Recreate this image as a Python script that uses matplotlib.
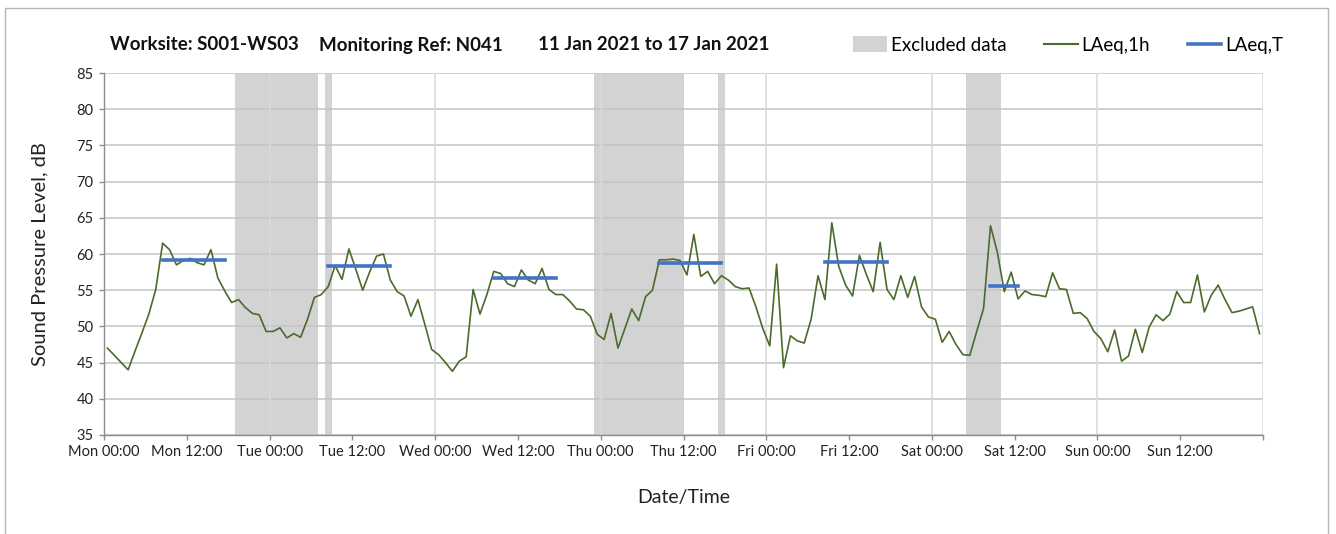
import numpy as np
import matplotlib
matplotlib.use('Agg')
import matplotlib.pyplot as plt
import matplotlib.patches as patches
from matplotlib.lines import Line2D

plt.rcParams.update({
    'font.family': ['Lato', 'DejaVu Sans'],
    'font.size': 11,
    'figure.facecolor': 'white',
    'axes.facecolor': 'white',
})

# Hourly LAeq,1h values, Mon 00:00 -> Sun 23:00 (168 hours)
laeq_1h = [
    47.0, 46.0, 45.0, 44.0, 46.6, 49.1, 51.7, 55.1, 61.5, 60.6, 58.5, 59.1,
    59.4, 58.8, 58.5, 60.6, 56.7, 54.9, 53.3, 53.7, 52.6, 51.8, 51.6, 49.3,
    49.3, 49.8, 48.4, 49.0, 48.5, 51.0, 54.0, 54.4, 55.5, 58.4, 56.5, 60.7,
    57.9, 55.0, 57.5, 59.7, 60.0, 56.4, 54.8, 54.2, 51.4, 53.7, 50.3, 46.8,
    46.1, 45.0, 43.8, 45.2, 45.8, 55.1, 51.7, 54.4, 57.6, 57.3, 55.9, 55.5,
    57.8, 56.4, 55.9, 58.0, 55.1, 54.4, 54.4, 53.5, 52.4, 52.3, 51.4, 48.9,
    48.2, 51.8, 47.0, 49.7, 52.4, 50.8, 54.1, 55.0, 59.2, 59.2, 59.3, 59.1,
    57.1, 62.7, 56.9, 57.6, 55.9, 57.0, 56.4, 55.5, 55.2, 55.3, 52.7, 49.7,
    47.3, 58.6, 44.3, 48.7, 48.0, 47.7, 51.0, 57.0, 53.7, 64.3, 58.3, 55.7,
    54.2, 59.8, 57.2, 54.8, 61.6, 55.1, 53.7, 57.0, 54.0, 56.9, 52.7, 51.3,
    51.0, 47.8, 49.3, 47.5, 46.1, 46.0, 49.3, 52.5, 63.9, 60.2, 54.8, 57.5,
    53.8, 54.9, 54.4, 54.3, 54.1, 57.4, 55.2, 55.1, 51.8, 51.9, 51.1, 49.3,
    48.3, 46.5, 49.5, 45.2, 45.9, 49.6, 46.4, 49.9, 51.6, 50.8, 51.7, 54.8,
    53.3, 53.3, 57.1, 52.0, 54.3, 55.7, 53.7, 51.9, 52.1, 52.4, 52.7, 49.0,
]

# LAeq,T periods (first hour, last hour, level)
period_start = [8, 32, 56, 80, 104, 128]
period_end = [17, 41, 65, 89, 113, 132]
period_level = [59.2, 58.4, 56.7, 58.8, 58.9, 55.6]

# Excluded data (hour from, hour to)
excl_start = [19, 32, 71, 89, 125]
excl_end = [31, 33, 84, 90, 130]

days = ['Mon', 'Tue', 'Wed', 'Thu', 'Fri', 'Sat', 'Sun']
tick_labels = [f'{d} {t}' for d in days for t in ('00:00', '12:00')]

GREEN = '#4a6b2c'
BLUE = '#4472c4'
SHADE = '#d3d3d3'
AXIS_GRAY = '#8c8c8c'

W, H = 1336, 534
fig = plt.figure(figsize=(W / 100, H / 100), dpi=100)
ax = fig.add_axes([104 / W, 1 - 435 / H, (1263 - 104) / W, (435 - 73) / H])

# excluded shading
for s, e in zip(excl_start, excl_end):
    ax.axvspan(s, e, color=SHADE, lw=0, zorder=0.2)

# vertical day gridlines
for h in range(24, 169, 24):
    ax.axvline(h, color='#d9d9d9', lw=1.2, zorder=0.6)

hours = np.arange(len(laeq_1h)) + 0.5
ax.plot(hours, laeq_1h, color=GREEN, lw=1.2, zorder=3)

for s, e, v in zip(period_start, period_end, period_level):
    ax.plot([s + 0.5, e + 0.5], [v, v], color=BLUE, lw=2.6,
            solid_capstyle='projecting', zorder=4)

ax.set_xlim(0, 168)
ax.set_ylim(35, 85)
ax.set_yticks(range(35, 86, 5))
ax.set_xticks(range(0, 169, 12))
ax.set_xticklabels(tick_labels + [''])
ax.set_axisbelow(True)
ax.yaxis.grid(True, color='#c4c4c4', lw=1.1)

for side in ('top', 'right'):
    ax.spines[side].set_visible(False)
for side in ('left', 'bottom'):
    ax.spines[side].set_color(AXIS_GRAY)
    ax.spines[side].set_linewidth(1.0)
ax.tick_params(axis='both', direction='out', length=3.5, width=1,
               color=AXIS_GRAY, labelsize=10.5, labelcolor='#222222', pad=4)

ax.set_xlabel('Date/Time', fontsize=14, color='#222222')
ax.set_ylabel('Sound Pressure Level, dB', fontsize=14.5, color='#222222')
ax.xaxis.set_label_coords(0.5, -(497 - 435) / 362)
ax.yaxis.set_label_coords((40 - 104) / 1159, 0.5)
ax.xaxis.label.set_va('center')
ax.yaxis.label.set_va('center')

# title pieces
ty = 1 - 45 / H
for x, txt in [(110, 'Worksite: S001-WS03'), (319, 'Monitoring Ref: N041'),
               (538, '11 Jan 2021 to 17 Jan 2021')]:
    fig.text(x / W, ty, txt, fontsize=13.5, fontweight='bold',
             ha='left', va='center', color='#111111')

# legend
handles = [patches.Patch(facecolor=SHADE, edgecolor='none'),
           Line2D([], [], color=GREEN, lw=1.5),
           Line2D([], [], color=BLUE, lw=2.6)]
fig.legend(handles, ['Excluded data', 'LAeq,1h', 'LAeq,T'],
           loc='center right', bbox_to_anchor=(1300 / W, ty), ncol=3,
           frameon=False, fontsize=13.5, handlelength=1.8, handletextpad=0.2,
           columnspacing=2.0, handleheight=0.9)

# outer frame
fig.add_artist(patches.Rectangle((5 / W, -0.05), (1328 - 5) / W, 1.05 - 8 / H,
                                 transform=fig.transFigure, fill=False,
                                 edgecolor='#b5b5b5', lw=1))

fig.savefig('out.png', dpi=100, facecolor='white')
